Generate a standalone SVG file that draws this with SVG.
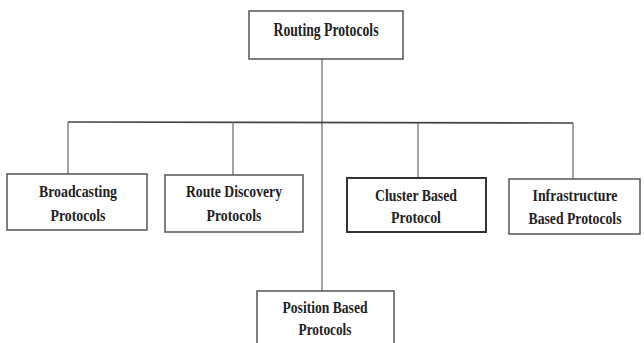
<svg xmlns="http://www.w3.org/2000/svg" width="644" height="343" viewBox="0 0 644 343">
<style>
.box{fill:#fff;stroke:#555;stroke-width:1.5}
.t{font-family:"Liberation Serif",serif;font-weight:bold;font-size:16.5px;fill:#222;text-anchor:middle}
.ln{stroke:#666;stroke-width:1.2;fill:none}
</style>
<rect width="644" height="343" fill="#fff"/>
<g id="connectors">
<path class="ln" d="M322,59 V291"/>
<path class="ln" d="M68,122 L573,123" style="stroke:#444;stroke-width:1.6"/>
<path class="ln" d="M68,122 V174"/>
<path class="ln" d="M233,122 V175"/>
<path class="ln" d="M418,123 V178"/>
<path class="ln" d="M573,123 V179"/>
</g>
<g id="routing">
<rect class="box" x="249" y="11" width="154" height="48"/>
<text class="t" x="326" y="36" style="font-size:18px" textLength="105" lengthAdjust="spacingAndGlyphs">Routing Protocols</text>
</g>
<g id="broadcasting">
<rect class="box" x="7" y="174" width="140" height="56"/>
<text class="t" x="78" y="197" textLength="78" lengthAdjust="spacingAndGlyphs">Broadcasting</text>
<text class="t" x="78" y="221" textLength="55" lengthAdjust="spacingAndGlyphs">Protocols</text>
</g>
<g id="routediscovery">
<rect class="box" x="165" y="175" width="138" height="57"/>
<text class="t" x="234" y="197" textLength="96" lengthAdjust="spacingAndGlyphs">Route Discovery</text>
<text class="t" x="234" y="221" textLength="55" lengthAdjust="spacingAndGlyphs">Protocols</text>
</g>
<g id="cluster">
<rect class="box" x="347" y="178" width="139" height="54" style="stroke:#333;stroke-width:2"/>
<text class="t" x="416" y="201" textLength="82" lengthAdjust="spacingAndGlyphs">Cluster Based</text>
<text class="t" x="416" y="223" textLength="50" lengthAdjust="spacingAndGlyphs">Protocol</text>
</g>
<g id="infrastructure">
<rect class="box" x="509" y="179" width="131" height="55"/>
<text class="t" x="575" y="201" textLength="85" lengthAdjust="spacingAndGlyphs">Infrastructure</text>
<text class="t" x="575" y="224" textLength="93" lengthAdjust="spacingAndGlyphs">Based Protocols</text>
</g>
<g id="position">
<rect class="box" x="257" y="291" width="137" height="60"/>
<text class="t" x="325" y="313" textLength="85" lengthAdjust="spacingAndGlyphs">Position Based</text>
<text class="t" x="325" y="335" textLength="53" lengthAdjust="spacingAndGlyphs">Protocols</text>
</g>
</svg>
